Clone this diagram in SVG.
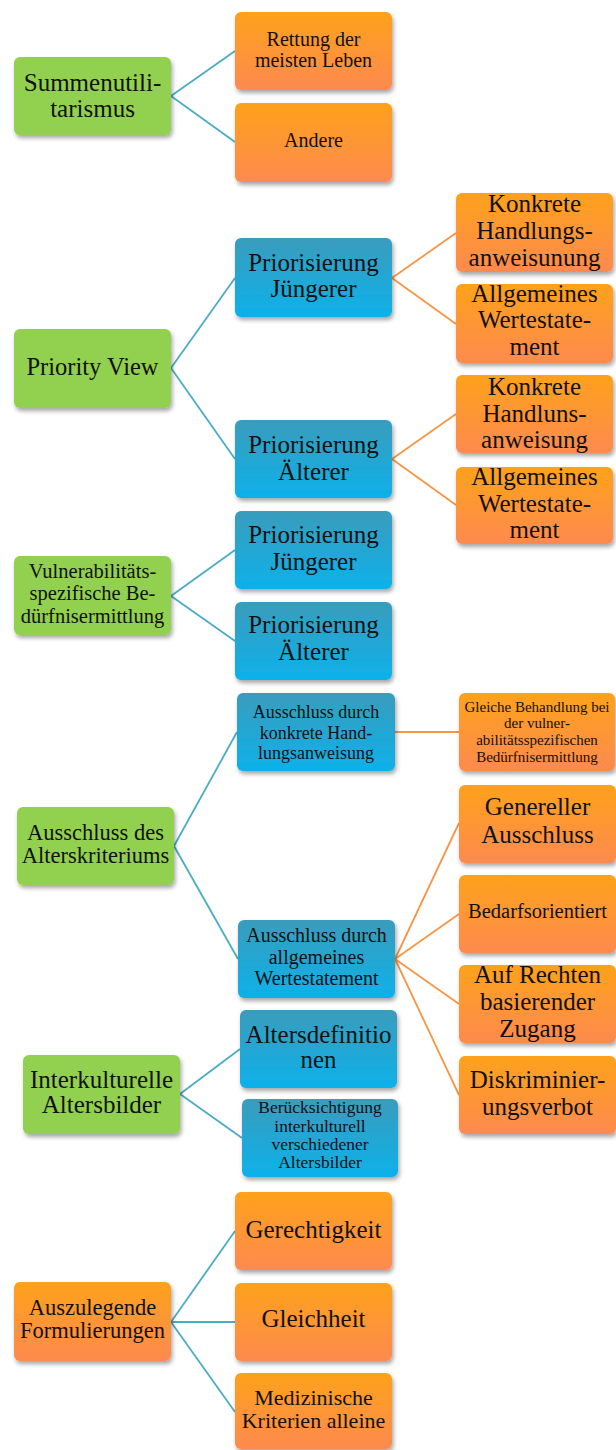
<svg xmlns="http://www.w3.org/2000/svg" width="616" height="1450" viewBox="0 0 616 1450" font-family="'Liberation Serif', 'Times New Roman', 'DejaVu Serif', serif">
<defs>
<linearGradient id="gO" x1="0" y1="0" x2="0" y2="1"><stop offset="0" stop-color="#fda21b"/><stop offset="1" stop-color="#fe8a4f"/></linearGradient>
<linearGradient id="gB" x1="0" y1="0" x2="0" y2="1"><stop offset="0" stop-color="#3a9cbc"/><stop offset="1" stop-color="#0db1ea"/></linearGradient>
<filter id="sh" x="-10%" y="-10%" width="125%" height="130%"><feDropShadow dx="1.5" dy="3" stdDeviation="2.2" flood-color="#000" flood-opacity="0.35"/></filter>
<style>
.n rect{rx:6px;ry:6px;filter:url(#sh)}
.g rect{fill:#92d050}
.o rect{fill:url(#gO)}
.b rect{fill:url(#gB)}
text{fill:#111;text-anchor:middle}
.ct line{stroke-width:1.8;fill:none}
.t{stroke:#4bacc6}
.r{stroke:#f79646}
</style>
</defs>
<g id="connectors" class="ct">
<line class="t" x1="171" y1="96" x2="235" y2="51"/>
<line class="t" x1="171" y1="96" x2="235" y2="142"/>
<line class="t" x1="171" y1="368" x2="235" y2="278"/>
<line class="t" x1="171" y1="368" x2="235" y2="459"/>
<line class="r" x1="392" y1="278" x2="456" y2="233"/>
<line class="r" x1="392" y1="278" x2="456" y2="324"/>
<line class="r" x1="392" y1="459" x2="456" y2="414"/>
<line class="r" x1="392" y1="459" x2="456" y2="505"/>
<line class="t" x1="171" y1="596" x2="235" y2="550"/>
<line class="t" x1="171" y1="596" x2="235" y2="641"/>
<line class="t" x1="174" y1="846" x2="237" y2="732"/>
<line class="t" x1="174" y1="846" x2="238" y2="959"/>
<line class="r" x1="395" y1="732" x2="459" y2="732"/>
<line class="r" x1="395" y1="959" x2="459" y2="823"/>
<line class="r" x1="395" y1="959" x2="459" y2="914"/>
<line class="r" x1="395" y1="959" x2="459" y2="1004"/>
<line class="r" x1="395" y1="959" x2="459" y2="1095"/>
<line class="t" x1="180" y1="1094" x2="240" y2="1049"/>
<line class="t" x1="180" y1="1094" x2="242" y2="1138"/>
<line class="t" x1="171" y1="1322" x2="235" y2="1231"/>
<line class="t" x1="171" y1="1322" x2="235" y2="1322"/>
<line class="t" x1="171" y1="1322" x2="235" y2="1412"/>
</g>

<g id="summenutilitarismus" class="n g"><rect x="14" y="57" width="157" height="78"/><text font-size="25"><tspan x="92.5" y="91">Summenutili-</tspan><tspan x="92.5" y="117">tarismus</tspan></text></g>
<g id="rettung" class="n o"><rect x="235" y="12" width="157" height="78"/><text font-size="20"><tspan x="313.5" y="46">Rettung der</tspan><tspan x="313.5" y="67">meisten Leben</tspan></text></g>
<g id="andere" class="n o"><rect x="235" y="103" width="157" height="79"/><text font-size="20" x="313.5" y="147">Andere</text></g>

<g id="priority-view" class="n g"><rect x="14" y="329" width="157" height="79"/><text font-size="24.5" x="92.5" y="375">Priority View</text></g>
<g id="prio-juengerer-1" class="n b"><rect x="235" y="238" width="157" height="79"/><text font-size="25"><tspan x="313.5" y="271">Priorisierung</tspan><tspan x="313.5" y="297">Jüngerer</tspan></text></g>
<g id="konkrete-1" class="n o"><rect x="456" y="193" width="157" height="79"/><text font-size="25"><tspan x="534.5" y="212">Konkrete</tspan><tspan x="534.5" y="239">Handlungs-</tspan><tspan x="534.5" y="266">anweisunung</tspan></text></g>
<g id="allgemeines-1" class="n o"><rect x="456" y="284" width="157" height="79"/><text font-size="25"><tspan x="534.5" y="302">Allgemeines</tspan><tspan x="534.5" y="328">Wertestate-</tspan><tspan x="534.5" y="355">ment</tspan></text></g>
<g id="prio-aelterer-1" class="n b"><rect x="235" y="420" width="157" height="78"/><text font-size="25"><tspan x="313.5" y="453">Priorisierung</tspan><tspan x="313.5" y="480">Älterer</tspan></text></g>
<g id="konkrete-2" class="n o"><rect x="456" y="375" width="157" height="78"/><text font-size="25"><tspan x="534.5" y="395">Konkrete</tspan><tspan x="534.5" y="422">Handluns-</tspan><tspan x="534.5" y="448">anweisung</tspan></text></g>
<g id="allgemeines-2" class="n o"><rect x="456" y="467" width="157" height="77"/><text font-size="25"><tspan x="534.5" y="485">Allgemeines</tspan><tspan x="534.5" y="512">Wertestate-</tspan><tspan x="534.5" y="538">ment</tspan></text></g>

<g id="vulnerabilitaet" class="n g"><rect x="14" y="556" width="157" height="79"/><text font-size="20.5"><tspan x="92.5" y="578">Vulnerabilitäts-</tspan><tspan x="92.5" y="600">spezifische Be-</tspan><tspan x="92.5" y="623">dürfnisermittlung</tspan></text></g>
<g id="prio-juengerer-2" class="n b"><rect x="235" y="511" width="157" height="78"/><text font-size="25"><tspan x="313.5" y="543">Priorisierung</tspan><tspan x="313.5" y="570">Jüngerer</tspan></text></g>
<g id="prio-aelterer-2" class="n b"><rect x="235" y="602" width="157" height="78"/><text font-size="25"><tspan x="313.5" y="633">Priorisierung</tspan><tspan x="313.5" y="660">Älterer</tspan></text></g>

<g id="ausschluss-alter" class="n g"><rect x="17" y="807" width="157" height="78"/><text font-size="22.5"><tspan x="95.5" y="840">Ausschluss des</tspan><tspan x="95.5" y="863">Alterskriteriums</tspan></text></g>
<g id="ausschluss-konkret" class="n b"><rect x="237" y="693" width="158" height="78"/><text font-size="18"><tspan x="316" y="718">Ausschluss durch</tspan><tspan x="316" y="739">konkrete Hand-</tspan><tspan x="316" y="759">lungsanweisung</tspan></text></g>
<g id="gleiche-behandlung" class="n o"><rect x="459" y="693" width="156" height="78"/><text font-size="15"><tspan x="537" y="712">Gleiche Behandlung bei</tspan><tspan x="537" y="728">der vulner-</tspan><tspan x="537" y="745">abilitätsspezifischen</tspan><tspan x="537" y="762">Bedürfnisermittlung</tspan></text></g>
<g id="ausschluss-allgemein" class="n b"><rect x="238" y="920" width="157" height="78"/><text font-size="20"><tspan x="316.5" y="942">Ausschluss durch</tspan><tspan x="316.5" y="964">allgemeines</tspan><tspan x="316.5" y="985">Wertestatement</tspan></text></g>
<g id="genereller-ausschluss" class="n o"><rect x="459" y="785" width="157" height="78"/><text font-size="25"><tspan x="537.5" y="815">Genereller</tspan><tspan x="537.5" y="843">Ausschluss</tspan></text></g>
<g id="bedarfsorientiert" class="n o"><rect x="459" y="875" width="157" height="78"/><text font-size="20.5" x="537.5" y="918">Bedarfsorientiert</text></g>
<g id="auf-rechten" class="n o"><rect x="459" y="965" width="157" height="78"/><text font-size="25"><tspan x="537.5" y="983">Auf Rechten</tspan><tspan x="537.5" y="1010">basierender</tspan><tspan x="537.5" y="1037">Zugang</tspan></text></g>
<g id="diskriminierungsverbot" class="n o"><rect x="459" y="1056" width="157" height="78"/><text font-size="25"><tspan x="537.5" y="1088">Diskriminier-</tspan><tspan x="537.5" y="1115">ungsverbot</tspan></text></g>

<g id="interkulturelle" class="n g"><rect x="23" y="1055" width="157" height="79"/><text font-size="25"><tspan x="101.5" y="1088">Interkulturelle</tspan><tspan x="101.5" y="1113">Altersbilder</tspan></text></g>
<g id="altersdefinitionen" class="n b"><rect x="240" y="1010" width="157" height="78"/><text font-size="25"><tspan x="318.5" y="1043">Altersdefinitio</tspan><tspan x="318.5" y="1068">nen</tspan></text></g>
<g id="beruecksichtigung" class="n b"><rect x="242" y="1099" width="156" height="78"/><text font-size="17.5"><tspan x="320" y="1113">Berücksichtigung</tspan><tspan x="320" y="1132">interkulturell</tspan><tspan x="320" y="1150">verschiedener</tspan><tspan x="320" y="1168">Altersbilder</tspan></text></g>

<g id="auszulegende" class="n o"><rect x="14" y="1282" width="157" height="79"/><text font-size="22.5"><tspan x="92.5" y="1315">Auszulegende</tspan><tspan x="92.5" y="1338">Formulierungen</tspan></text></g>
<g id="gerechtigkeit" class="n o"><rect x="235" y="1192" width="157" height="78"/><text font-size="25" x="313.5" y="1238">Gerechtigkeit</text></g>
<g id="gleichheit" class="n o"><rect x="235" y="1283" width="157" height="78"/><text font-size="25" x="313.5" y="1327">Gleichheit</text></g>
<g id="medizinische" class="n o"><rect x="235" y="1373" width="157" height="76"/><text font-size="22"><tspan x="313.5" y="1405">Medizinische</tspan><tspan x="313.5" y="1428">Kriterien alleine</tspan></text></g>
</svg>
